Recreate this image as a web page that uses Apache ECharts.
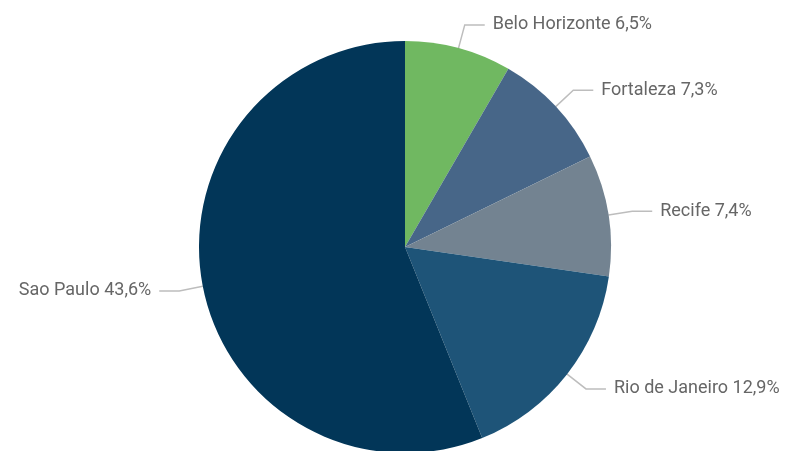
<!DOCTYPE html>
<html><head><meta charset="utf-8">
<script src="https://cdn.jsdelivr.net/npm/echarts@6/dist/echarts.min.js"></script>
<style>html,body{margin:0;padding:0;background:#fff}#c{width:787px;height:451px}</style>
</head><body><div id="c"></div>
<script>
const categories = ['Belo Horizonte', 'Fortaleza', 'Recife', 'Rio de Janeiro', 'Sao Paulo'];
const values = [6.5, 7.3, 7.4, 12.9, 43.6];
const colors = ['#70b861', '#476688', '#738391', '#1e5478', '#023658'];

const chart = echarts.init(document.getElementById('c'));
chart.setOption({
  animation: false,
  series: [{
    type: 'pie',
    center: [405, 247],
    radius: 206,
    startAngle: 90,
    clockwise: true,
    data: categories.map((c, i) => ({ name: c, value: values[i], itemStyle: { color: colors[i] } })),
    label: {
      formatter: p => p.name + ' ' + String(p.value).replace('.', ',') + '%',
      color: '#666666',
      fontFamily: 'Roboto',
      fontSize: 18,
      distanceToLabelLine: 8,
      overflow: 'none'
    },
    labelLine: { length: 24, length2: 20, lineStyle: { color: '#bdbdbd', width: 1.5 } },
    itemStyle: { borderWidth: 0 }
  }]
});
</script></body></html>
